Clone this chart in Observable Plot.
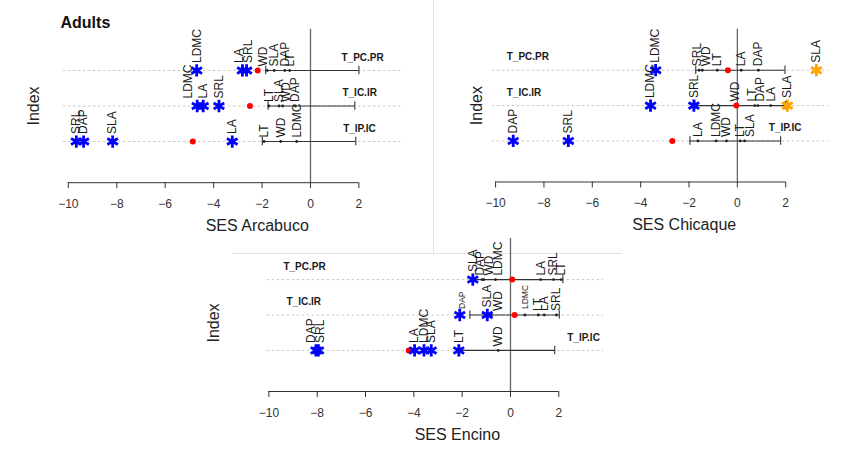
<!DOCTYPE html>
<html><head><meta charset="utf-8">
<script src="https://cdn.jsdelivr.net/npm/d3@7"></script>
<script src="https://cdn.jsdelivr.net/npm/@observablehq/plot@0.6"></script>
<style>
body{margin:0;background:#fff;font-family:"Liberation Sans",Arial,sans-serif;}
#wrap{position:relative;width:841px;height:450px;overflow:hidden;background:#fff;}
.panel{position:absolute;}
.sep{position:absolute;background:#e2e2e2;}
</style></head><body>
<div id="wrap">
<div class="sep" style="left:433px;top:0;width:1px;height:253px"></div>
<div class="sep" style="left:232px;top:253px;width:390px;height:1px"></div>
</div>
<script>
// ---------- DATA ----------
const traits = ["LA", "SLA", "LDMC", "LT", "WD", "SRL", "DAP"];
const indices = ["T_PC.PR", "T_IC.IR", "T_IP.IC"];
const indexLevel = [3, 2, 1];
const xTicks = [-10, -8, -6, -4, -2, 0, 2];
const figureTitle = "Adults";
const yLabel = "Index";

// SES of each trait (rows follow `indices`, columns follow `traits`)
const arcabucoSES = [
  [-2.81, -1.50, -4.70, -0.86, -1.78, -2.64, -1.06],
  [-4.43, -1.30, -4.68, -1.72, -1.15, -3.78, -0.62],
  [-3.23, -8.17, -0.57, -1.92, -1.23, -9.67, -9.37]
];
const arcabucoSig = [
  ["L", "n", "L", "n", "n", "L", "n"],
  ["L", "n", "L", "n", "n", "L", "n"],
  ["L", "L", "n", "n", "n", "L", "L"]
];
const arcabucoObserved = [-2.18, -2.50, -4.86];
const arcabucoNullLow = [-1.85, -1.75, -1.99];
const arcabucoNullHigh = [2.00, 1.83, 1.87];
const arcabucoIndexLabelX = [1.28, 1.32, 1.35];

const chicaqueSES = [
  [0.16, 3.27, -3.38, -0.83, -1.45, -1.58, 0.87],
  [1.38, 2.07, -3.59, 0.72, -0.10, -1.80, 0.85],
  [-1.63, 0.30, -0.88, 0.12, -0.45, -6.99, -9.27]
];
const chicaqueSig = [
  ["n", "H", "L", "n", "n", "n", "n"],
  ["n", "H", "L", "n", "n", "L", "n"],
  ["n", "n", "n", "n", "n", "L", "L"]
];
const chicaqueObserved = [-0.39, -0.04, -2.69];
const chicaqueNullLow = [-1.72, -1.75, -1.96];
const chicaqueNullHigh = [1.97, 1.98, 1.79];
const chicaqueIndexLabelX = [-9.54, -9.54, 1.30];

const encinoSES = [
  [1.25, -1.56, -0.62, 2.10, -1.10, 1.78, -1.18],
  [1.40, -0.96, 0.60, 1.15, -0.80, 1.90, -2.10],
  [-3.97, -3.28, -3.58, -2.14, -0.51, -7.95, -8.05]
];
const encinoSig = [
  ["n", "L", "n", "n", "n", "n", "n"],
  ["n", "L", "n", "n", "n", "n", "L"],
  ["L", "L", "L", "L", "n", "L", "L"]
];
const encinoObserved = [0.07, 0.17, -4.21];
const encinoNullLow = [-1.55, -1.68, -2.10];
const encinoNullHigh = [2.17, 2.02, 1.83];
const encinoIndexLabelX = [-9.40, -9.27, 2.35];

// ---------- LAYOUT / STYLE ----------
const FONT = "'Liberation Sans', Arial, Helvetica, sans-serif";
const yDomain = [-0.16, 4.16];
const panels = [
  {title: "SES Arcabuco", ses: arcabucoSES, sig: arcabucoSig, obs: arcabucoObserved, lo: arcabucoNullLow, hi: arcabucoNullHigh, labX: arcabucoIndexLabelX,
   left: 0, top: 0, width: 432, height: 250, mL: 63, mR: 30, mT: 28.8, mB: 67.8, dom: [-10.2, 3.8], indexDx: -30, indexDy: 0, showTitle: true,
   nudge: {"T_PC.PR|WD": -4, "T_PC.PR|LA": -3, "T_PC.PR|SRL": 2, "T_IC.IR|LDMC": -9, "T_IC.IR|WD": 4}},
  {title: "SES Chicaque", ses: chicaqueSES, sig: chicaqueSig, obs: chicaqueObserved, lo: chicaqueNullLow, hi: chicaqueNullHigh, labX: chicaqueIndexLabelX,
   left: 435, top: 0, width: 406, height: 250, mL: 56.7, mR: 13, mT: 28.7, mB: 68.5, dom: [-10.14, 3.77], indexDx: -15.7, indexDy: 0, showTitle: false,
   nudge: {"T_PC.PR|SRL": -2, "T_PC.PR|WD": 4, "T_IC.IR|LT": -3, "T_IC.IR|DAP": 2, "T_IP.IC|SLA": 6}},
  {title: "SES Encino", ses: encinoSES, sig: encinoSig, obs: encinoObserved, lo: encinoNullLow, hi: encinoNullHigh, labX: encinoIndexLabelX,
   left: 200, top: 225, width: 420, height: 225, mL: 66.7, mR: 17, mT: 13, mB: 59, dom: [-10.07, 3.85], indexDx: -53.7, indexDy: 8, showTitle: false,
   nudge: {"T_PC.PR|DAP": -2, "T_PC.PR|WD": 5, "T_PC.PR|LDMC": 3, "T_IC.IR|DAP": 2.5, "T_IC.IR|WD": 7, "T_IP.IC|DAP": -5, "T_IP.IC|SRL": 2},
   small: new Set(["T_IC.IR|DAP", "T_IC.IR|LDMC"])}
];
const sigColor = {L: "#0000ff", H: "#ffa500"};

const wrap = document.getElementById("wrap");

for (const p of panels) {
  const k = (p.width - p.mL - p.mR) / (p.dom[1] - p.dom[0]);
  const rowsData = indices.map((name, i) => ({name, y: indexLevel[i], lo: p.lo[i], hi: p.hi[i], obs: p.obs[i], labX: p.labX[i]}));
  const pts = [];
  indices.forEach((name, i) => traits.forEach((t, j) => {
    pts.push({key: name + "|" + t, trait: t, y: indexLevel[i], v: p.ses[i][j], sig: p.sig[i][j]});
  }));
  const small = p.small || new Set();
  const labX = d => d.v + (p.nudge[d.key] || 0) / k;
  const ns = pts.filter(d => d.sig === "n");
  const star = pts.filter(d => d.sig !== "n");
  const dotLab = ns.filter(d => !small.has(d.key));
  const starLab = star.filter(d => !small.has(d.key));
  const smallLab = pts.filter(d => small.has(d.key));

  const marks = [
    Plot.ruleY(indexLevel, {stroke: "#c8c8c8", strokeDasharray: "2.5,2.5", strokeWidth: 1}),
    Plot.ruleX([0], {stroke: "#666", strokeWidth: 1.3}),
    Plot.ruleY([yDomain[0]], {x1: xTicks[0], x2: xTicks[xTicks.length - 1], stroke: "#333", strokeWidth: 1}),
    Plot.axisX({ticks: xTicks, tickSize: 6, tickPadding: 10.5, fontSize: 12, color: "#333", label: null}),
    Plot.ruleY(rowsData, {y: "y", x1: "lo", x2: "hi", stroke: "#333", strokeWidth: 1.1}),
    Plot.ruleX(rowsData, {x: "lo", y1: d => d.y - 0.12, y2: d => d.y + 0.12, stroke: "#333", strokeWidth: 1.1}),
    Plot.ruleX(rowsData, {x: "hi", y1: d => d.y - 0.12, y2: d => d.y + 0.12, stroke: "#333", strokeWidth: 1.1}),
    Plot.dot(ns, {x: "v", y: "y", r: 1.4, fill: "#222", stroke: "none"}),
    Plot.dot(rowsData, {x: "obs", y: "y", r: 3, fill: "#ff0000", stroke: "none"}),
    Plot.dot(star, {x: "v", y: "y", symbol: "asterisk", r: 5.8, stroke: d => sigColor[d.sig], strokeWidth: 2.8}),
    Plot.text(dotLab, {x: labX, y: "y", text: "trait", rotate: -90, textAnchor: "start", dy: -4, fontSize: 12, fill: "#1a1a1a"}),
    Plot.text(starLab, {x: labX, y: "y", text: "trait", rotate: -90, textAnchor: "start", dy: -7.5, fontSize: 12, fill: "#1a1a1a"}),
    Plot.text(smallLab, {x: labX, y: "y", text: "trait", rotate: -90, textAnchor: "start", dy: -6, fontSize: 8.5, fill: "#1a1a1a"}),
    Plot.text(rowsData, {x: "labX", y: "y", text: "name", textAnchor: "start", dy: -13, fontSize: 10, fontWeight: "bold", fill: "#1a1a1a"}),
    Plot.text([yLabel], {frameAnchor: "left", rotate: -90, textAnchor: "middle", dx: p.indexDx, dy: p.indexDy, fontSize: 16, fill: "#222"}),
    Plot.text([p.title], {x: [-2.2], frameAnchor: "bottom", dy: 48, fontSize: 16, fill: "#222"})
  ];
  if (p.showTitle) {
    marks.push(Plot.text([figureTitle], {frameAnchor: "top-left", dx: -3, dy: -12.8, textAnchor: "start", fontSize: 16, fontWeight: "bold", fill: "#111"}));
  }

  const chart = Plot.plot({
    width: p.width, height: p.height,
    marginLeft: p.mL, marginRight: p.mR, marginTop: p.mT, marginBottom: p.mB,
    x: {domain: p.dom},
    y: {domain: yDomain, axis: null},
    style: {background: "transparent", overflow: "visible", fontFamily: FONT},
    marks
  });
  const holder = document.createElement("div");
  holder.className = "panel";
  holder.style.left = p.left + "px";
  holder.style.top = p.top + "px";
  holder.appendChild(chart);
  wrap.appendChild(holder);
}
</script>
</body></html>
